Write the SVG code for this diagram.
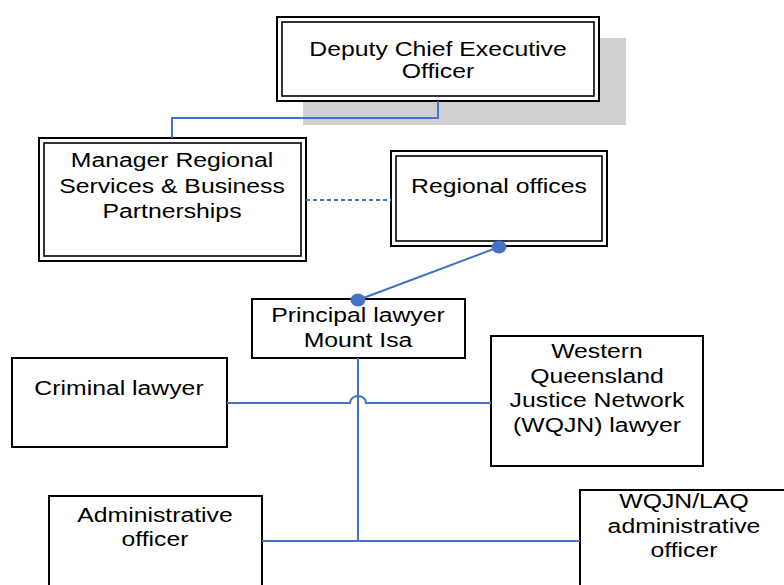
<svg xmlns="http://www.w3.org/2000/svg" width="784" height="585" viewBox="0 0 784 585">
<style>
.box{fill:#fff;stroke:#000;stroke-width:2}
.inner{fill:none;stroke:#000;stroke-width:1.6}
.t{font-family:"Liberation Sans",Arial,sans-serif;font-size:21px;fill:#000;text-anchor:middle}
.c{fill:none;stroke:#4472C4;stroke-width:2}
.d{fill:#4472C4}
</style>
<rect width="784" height="585" fill="#fff"/>
<g id="shadow"><rect x="303" y="38" width="323" height="87" fill="#d0d0d0"/></g>
<g id="dceo">
<rect class="box" x="277" y="17" width="322" height="84"/>
<rect class="inner" x="282" y="22" width="312" height="74"/>
<text class="t" transform="translate(438,56) scale(1.18,1)">Deputy Chief Executive</text>
<text class="t" transform="translate(438,78) scale(1.18,1)">Officer</text>
</g>
<g id="manager">
<rect class="box" x="39" y="138" width="267" height="123"/>
<rect class="inner" x="44" y="143" width="257" height="113"/>
<text class="t" transform="translate(172,167) scale(1.18,1)">Manager Regional</text>
<text class="t" transform="translate(172,193) scale(1.18,1)">Services &amp; Business</text>
<text class="t" transform="translate(172,218) scale(1.18,1)">Partnerships</text>
</g>
<g id="regional">
<rect class="box" x="391" y="151" width="216" height="95"/>
<rect class="inner" x="396" y="156" width="206" height="85"/>
<text class="t" transform="translate(499,193) scale(1.18,1)">Regional offices</text>
</g>
<g id="principal">
<rect class="box" x="252" y="299" width="213" height="59"/>
<text class="t" transform="translate(358,322) scale(1.18,1)">Principal lawyer</text>
<text class="t" transform="translate(358,347) scale(1.18,1)">Mount Isa</text>
</g>
<g id="criminal">
<rect class="box" x="12" y="358" width="215" height="89"/>
<text class="t" transform="translate(119,395) scale(1.18,1)">Criminal lawyer</text>
</g>
<g id="wqjn">
<rect class="box" x="491" y="336" width="212" height="130"/>
<text class="t" transform="translate(597,358) scale(1.18,1)">Western</text>
<text class="t" transform="translate(597,383) scale(1.18,1)">Queensland</text>
<text class="t" transform="translate(597,407) scale(1.18,1)">Justice Network</text>
<text class="t" transform="translate(597,432) scale(1.18,1)">(WQJN) lawyer</text>
</g>
<g id="admin">
<rect class="box" x="49" y="496" width="213" height="100"/>
<text class="t" transform="translate(155,522) scale(1.18,1)">Administrative</text>
<text class="t" transform="translate(155,546) scale(1.18,1)">officer</text>
</g>
<g id="wqjnlaq">
<rect class="box" x="580" y="490" width="220" height="110"/>
<text class="t" transform="translate(684,508) scale(1.18,1)">WQJN/LAQ</text>
<text class="t" transform="translate(684,533) scale(1.18,1)">administrative</text>
<text class="t" transform="translate(684,557) scale(1.18,1)">officer</text>
</g>
<g id="connectors">
<path class="c" d="M438,101 V118 H172 V138"/>
<path class="c" d="M306,200 H391" stroke-dasharray="4,3"/>
<path class="c" d="M499,247 L358,300"/>
<ellipse class="d" cx="499" cy="247" rx="7.5" ry="6.5"/>
<ellipse class="d" cx="358" cy="300" rx="7.5" ry="6.5"/>
<path class="c" d="M358,358 V541"/>
<path class="c" d="M227,403 H350 A8,7 0 0 1 366,403 H491"/>
<path class="c" d="M262,541 H580"/>
</g>
</svg>
